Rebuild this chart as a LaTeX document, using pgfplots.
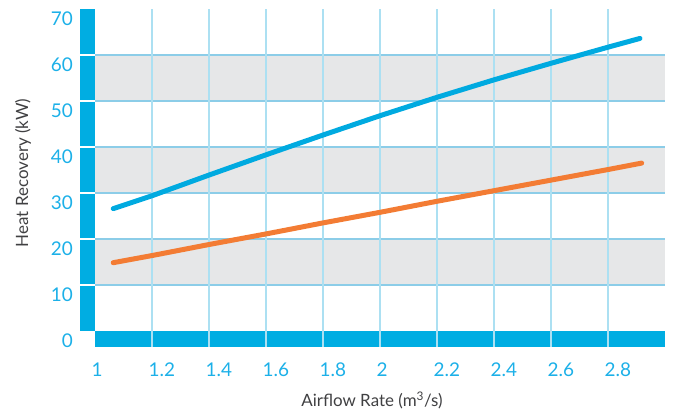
\documentclass[border=0pt]{standalone}
\usepackage{pgfplots}
\pgfplotsset{compat=1.18}
\usepackage{fontspec}
\setmainfont{Lato}
\definecolor{barcyan}{RGB}{0,173,226}
\definecolor{tickcyan}{RGB}{28,176,232}
\definecolor{lineblue}{RGB}{0,170,224}
\definecolor{lineorange}{RGB}{243,124,52}
\definecolor{band}{RGB}{230,231,232}
\definecolor{hgrid}{RGB}{140,205,232}
\definecolor{vgrid}{RGB}{172,224,242}
\definecolor{labgray}{RGB}{64,64,66}
\begin{document}
\begin{tikzpicture}
\begin{axis}[
  at={(0,0)}, anchor=south west,
  scale only axis, width=570bp, height=322bp,
  xmin=1, xmax=3, ymin=0, ymax=70,
  clip=false,
  axis line style={draw=none},
  major tick length=0pt,
  tick style={draw=none},
  xtick={1,1.2,1.4,1.6,1.8,2,2.2,2.4,2.6,2.8},
  ytick={0,10,20,30,40,50,60,70},
  /pgf/number format/assume math mode=true,
  ticklabel style={font=\fontsize{19}{19}\selectfont, text=tickcyan, inner sep=0pt},
  xticklabel style={anchor=north west, xshift=-3.5bp, yshift=-32bp},
  yticklabel style={anchor=north east, xshift=-22bp, yshift=-3bp},
]
% bands
\fill[band] (axis cs:1,10) rectangle (axis cs:3,20);
\fill[band] (axis cs:1,30) rectangle (axis cs:3,40);
\fill[band] (axis cs:1,50) rectangle (axis cs:3,60);
% bars
\fill[barcyan] ([xshift=-15bp]axis cs:1,0) rectangle (axis cs:1,70);
\fill[barcyan] (axis cs:1,0) rectangle ([yshift=-16bp]axis cs:3,0);
% horizontal grid
\pgfplotsinvokeforeach{10,20,30,40,50,60}{
  \draw[hgrid, line width=1.3bp] (axis cs:1,#1) -- (axis cs:3,#1);
  \draw[white, line width=1.3bp] ([xshift=-15bp]axis cs:1,#1) -- (axis cs:1,#1);
}
% vertical grid
\pgfplotsinvokeforeach{1.2,1.4,1.6,1.8,2,2.2,2.4,2.6,2.8}{
  \draw[vgrid, line width=1.5bp] (axis cs:#1,70) -- ([yshift=-16bp]axis cs:#1,0);
}
\addplot[lineblue, line width=5bp, line cap=round, line join=round] coordinates {
  (1.064,26.6) (1.2,29.4) (1.4,33.9) (1.6,38.3) (1.8,42.6) (2.0,46.8)
  (2.2,50.8) (2.4,54.6) (2.6,58.2) (2.8,61.7) (2.912,63.6)
};
\addplot[lineorange, line width=5bp, line cap=round, line join=round] coordinates {
  (1.064,14.85) (1.2,16.4) (1.4,18.8) (1.6,21.1) (1.8,23.5) (2.0,25.8)
  (2.2,28.2) (2.4,30.5) (2.6,32.8) (2.8,35.1) (2.918,36.5)
};
\end{axis}
\node[rotate=90, text=labgray, font=\fontsize{17}{17}\selectfont, inner sep=0pt] at (-72bp,158bp) {Heat Recovery (kW)};
\node[anchor=base, text=labgray, font=\fontsize{17}{17}\selectfont, inner sep=0pt] at (277bp,-75.5bp) {Airflow Rate (m\textsuperscript{3}/s)};
\pgfresetboundingbox
\useasboundingbox (-95bp,-81bp) rectangle (580bp,331bp);
\end{tikzpicture}
\end{document}
